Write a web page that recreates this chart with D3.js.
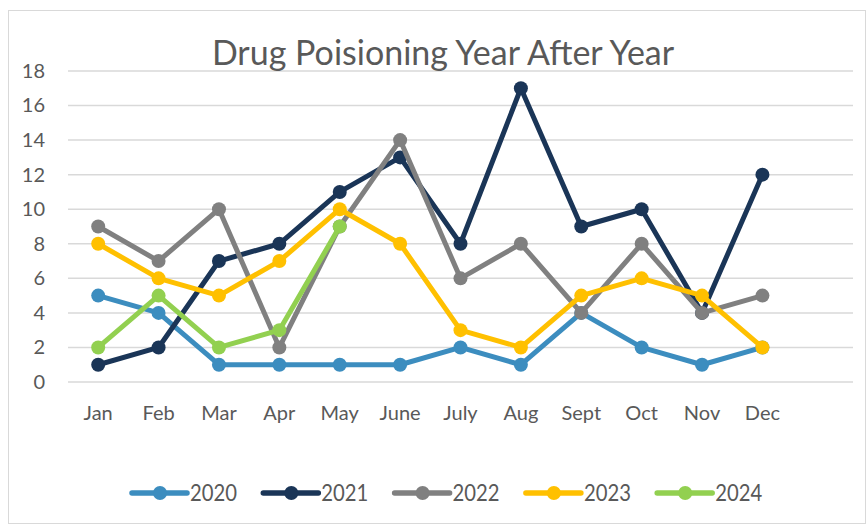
<!DOCTYPE html>
<html>
<head>
<meta charset="utf-8">
<script src="https://cdn.jsdelivr.net/npm/d3@7"></script>
<style>
  html, body { margin: 0; padding: 0; background: #fff; }
  svg { display: block; font-family: Lato, "Open Sans", sans-serif; }
</style>
</head>
<body>
<div id="chart"></div>
<script>
// chart data
const months = ["Jan", "Feb", "Mar", "Apr", "May", "June", "July", "Aug", "Sept", "Oct", "Nov", "Dec"];
const years = ["2020", "2021", "2022", "2023", "2024"];
const v2020 = [5, 4, 1, 1, 1, 1, 2, 1, 4, 2, 1, 2];
const v2021 = [1, 2, 7, 8, 11, 13, 8, 17, 9, 10, 4, 12];
const v2022 = [9, 7, 10, 2, 9, 14, 6, 8, 4, 8, 4, 5];
const v2023 = [8, 6, 5, 7, 10, 8, 3, 2, 5, 6, 5, 2];
const v2024 = [2, 5, 2, 3, 9];
const yTicks = [0, 2, 4, 6, 8, 10, 12, 14, 16, 18];

const colors = ["#3c8dbf", "#1a3557", "#808080", "#ffc000", "#92d050"];
const seriesList = [v2020, v2021, v2022, v2023, v2024].map((vals, i) => ({
  name: years[i], color: colors[i], values: vals
}));

const width = 867, height = 526;
const plotLeft = 68, plotRight = 853, plotTop = 71, plotBottom = 382;
const bandW = (plotRight - plotLeft) / 13;

const svg = d3.select("#chart").append("svg")
  .attr("width", width)
  .attr("height", height);

// outer border
svg.append("rect")
  .attr("x", 8.5).attr("y", 10.5)
  .attr("width", 857).attr("height", 513)
  .attr("fill", "#fff")
  .attr("stroke", "#d9d9d9");

const x = d3.scaleBand()
  .domain(months)
  .range([plotLeft, plotLeft + bandW * months.length]);

const y = d3.scaleLinear()
  .domain([0, 18])
  .range([plotBottom, plotTop]);

// gridlines
svg.append("g")
  .selectAll("line")
  .data(yTicks)
  .join("line")
  .attr("x1", plotLeft).attr("x2", plotRight)
  .attr("y1", d => y(d)).attr("y2", d => y(d))
  .attr("stroke", "#d9d9d9")
  .attr("stroke-width", 1.5);

// y axis labels
const yAxis = svg.append("g")
  .attr("transform", `translate(${plotLeft - 23},0)`)
  .call(d3.axisLeft(y).tickValues(yTicks).tickSize(0).tickPadding(0));
yAxis.select(".domain").remove();
yAxis.selectAll("text")
  .attr("fill", "#595959")
  .style("font-size", "20px")
  .style("font-family", "Lato, 'Open Sans', sans-serif");

// x axis labels
const xAxis = svg.append("g")
  .attr("transform", `translate(0,${plotBottom + 24})`)
  .call(d3.axisBottom(x).tickSize(0).tickPadding(0));
xAxis.select(".domain").remove();
xAxis.selectAll("text")
  .attr("fill", "#595959")
  .style("font-size", "20px")
  .style("font-family", "Lato, 'Open Sans', sans-serif");

// title
svg.append("text")
  .attr("x", 443).attr("y", 65)
  .attr("text-anchor", "middle")
  .attr("fill", "#595959")
  .style("font-size", "34px")
  .text("Drug Poisioning Year After Year");

const line = d3.line()
  .x((d, i) => x(months[i]) + x.bandwidth() / 2)
  .y(d => y(d));

const g = svg.append("g")
  .selectAll("g")
  .data(seriesList)
  .join("g");

g.append("path")
  .attr("d", d => line(d.values))
  .attr("fill", "none")
  .attr("stroke", d => d.color)
  .attr("stroke-width", 5)
  .attr("stroke-linejoin", "round");

g.selectAll("circle")
  .data(d => d.values.map((v, i) => ({ v, i, color: d.color })))
  .join("circle")
  .attr("cx", d => x(months[d.i]) + x.bandwidth() / 2)
  .attr("cy", d => y(d.v))
  .attr("r", 7)
  .attr("fill", d => d.color);

// legend
const legend = svg.append("g")
  .attr("transform", "translate(132,493)");

const item = legend.selectAll("g")
  .data(seriesList)
  .join("g")
  .attr("transform", (d, i) => `translate(${i * 131.3},0)`);

item.append("line")
  .attr("x1", 0).attr("x2", 55)
  .attr("stroke", d => d.color)
  .attr("stroke-width", 5.5)
  .attr("stroke-linecap", "round");

item.append("circle")
  .attr("cx", 28).attr("r", 7)
  .attr("fill", d => d.color);

item.append("text")
  .attr("x", 58).attr("y", 8)
  .attr("fill", "#595959")
  .style("font-size", "23px")
  .attr("textLength", 47)
  .attr("lengthAdjust", "spacingAndGlyphs")
  .text(d => d.name);
</script>
</body>
</html>
